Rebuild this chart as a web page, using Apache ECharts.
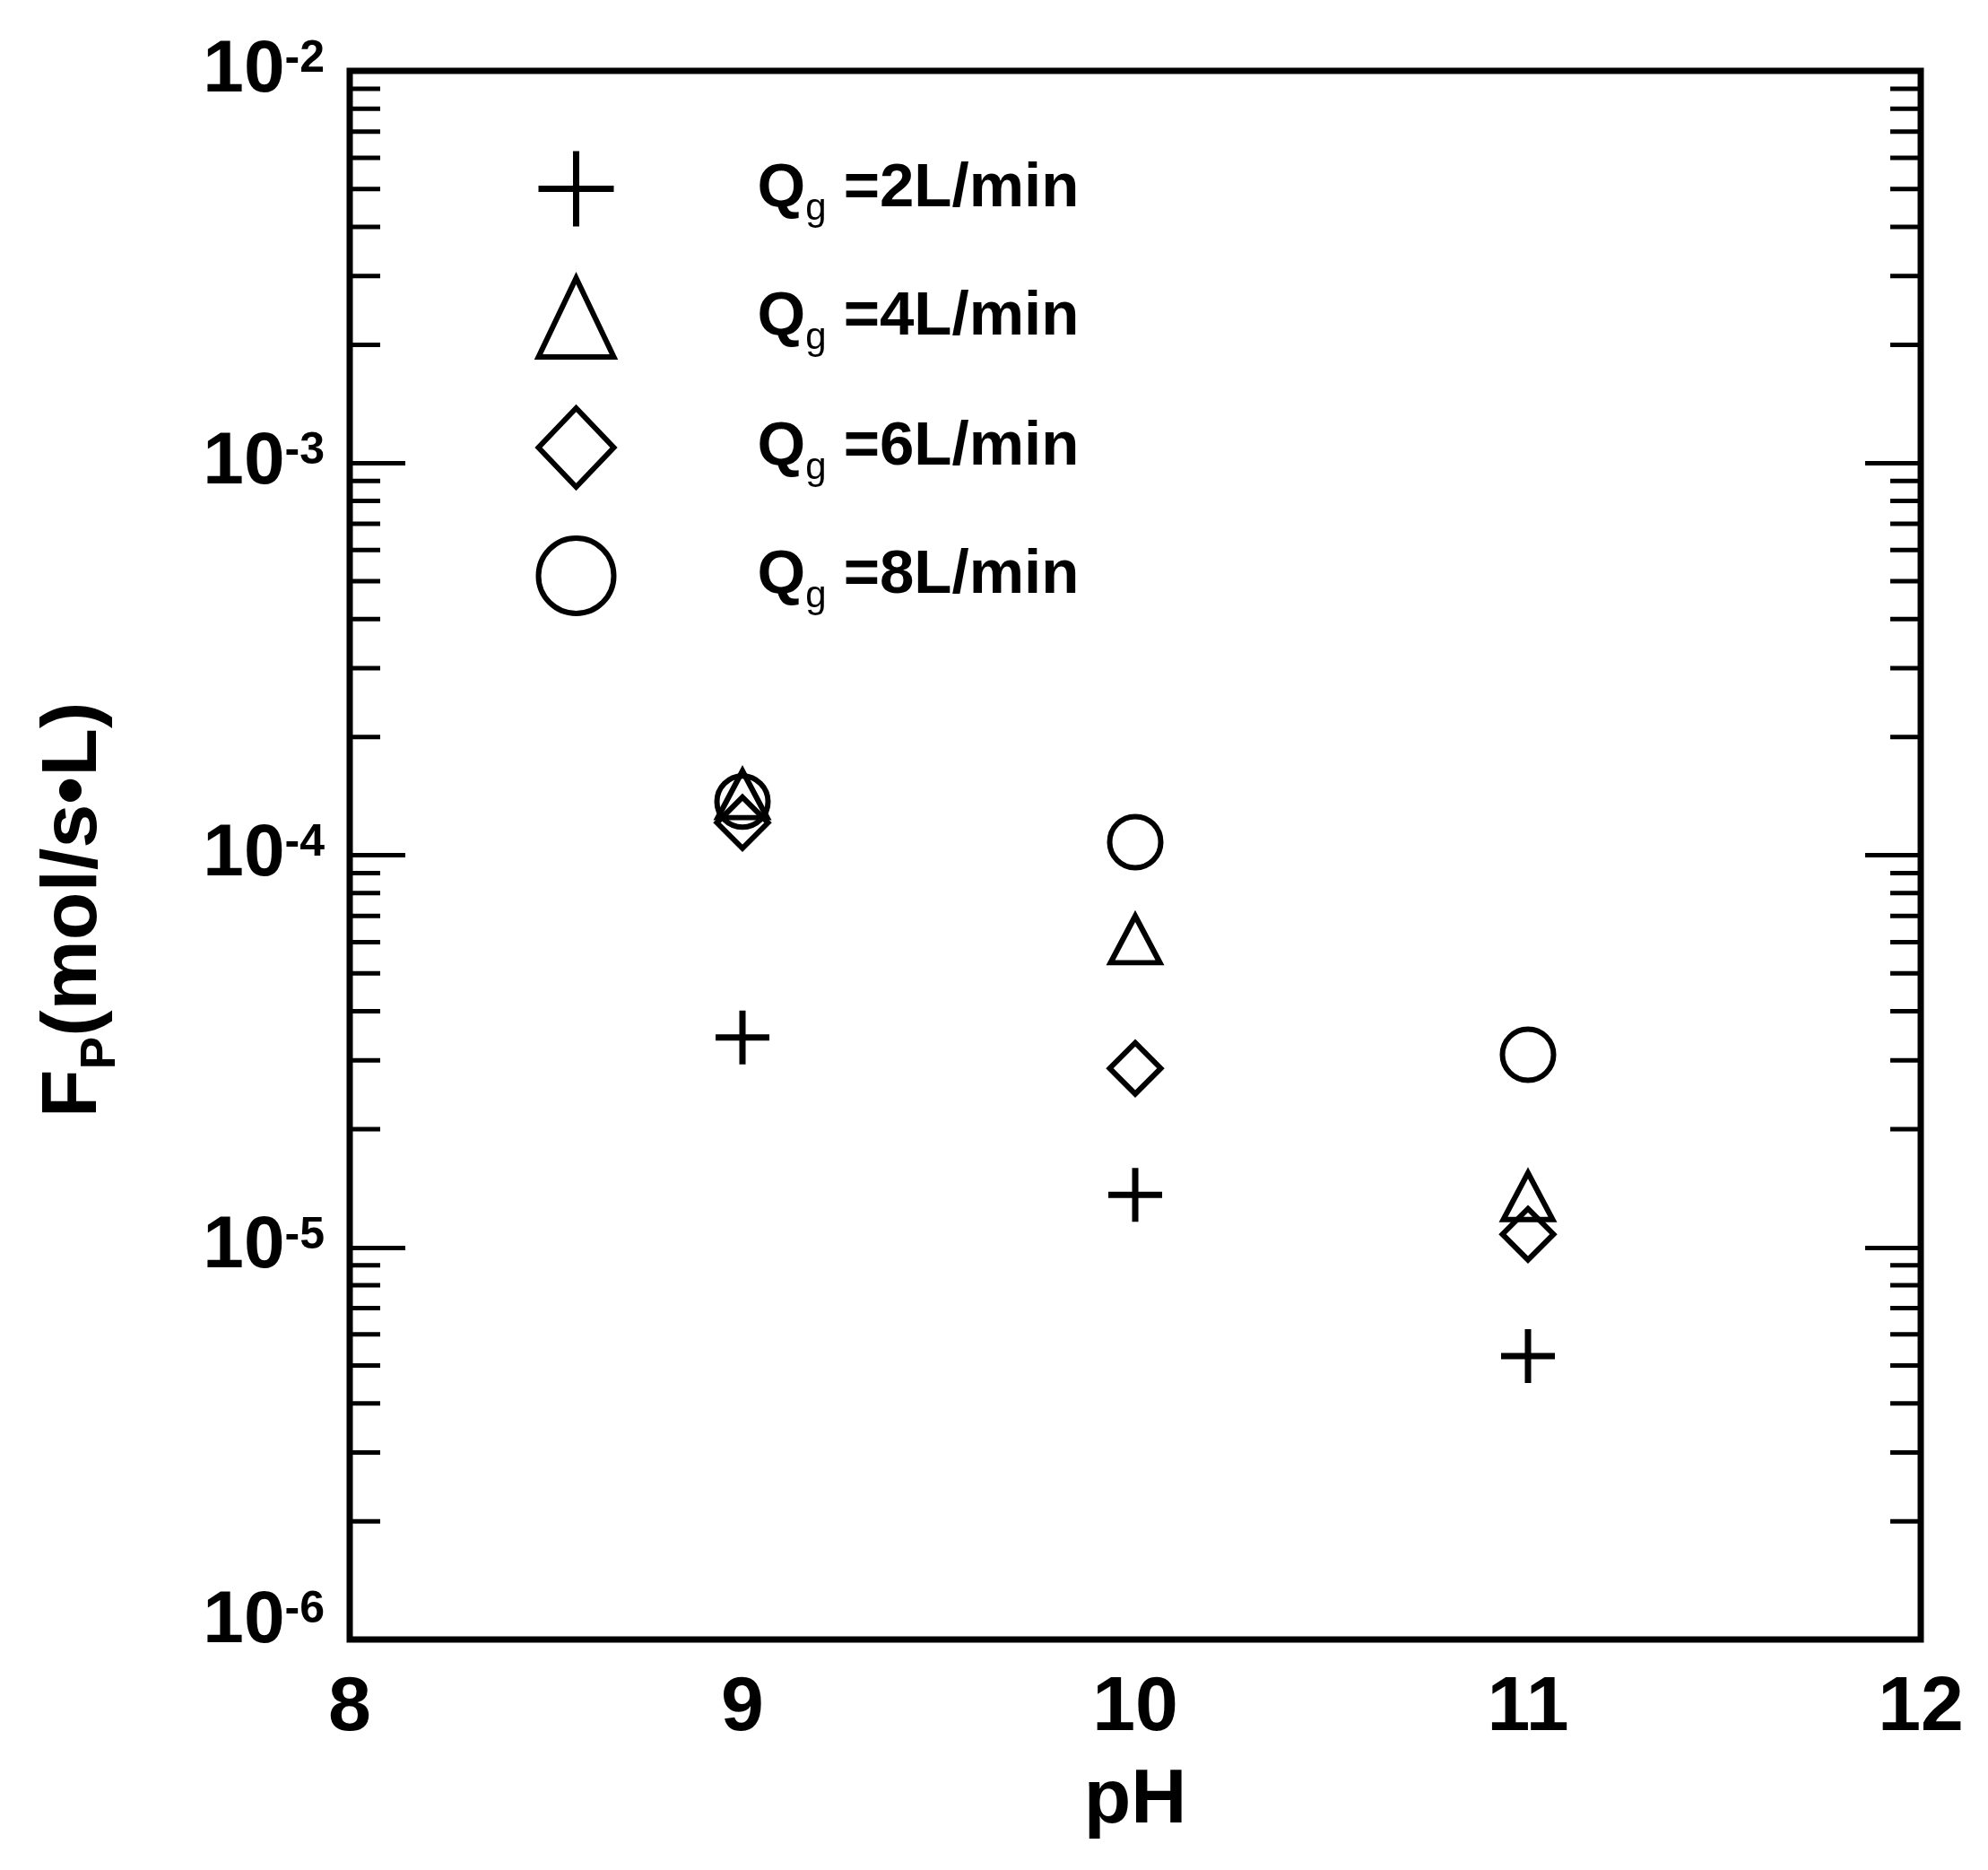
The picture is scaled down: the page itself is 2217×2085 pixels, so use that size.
<!DOCTYPE html>
<html><head><meta charset="utf-8">
<script src="https://cdn.jsdelivr.net/npm/echarts@6/dist/echarts.min.js"></script>
<style>html,body{margin:0;padding:0;background:#fff}#c{width:2217px;height:2085px}</style>
</head><body><div id="c"></div>
<script>
// ---- data ----
const pH = [9, 10, 11];
const flowRates = [2, 4, 6, 8];           // Qg, L/min
const fpQ2 = [3.43e-5, 1.36e-5, 5.28e-6];
const fpQ4 = [1.43e-4, 6.1e-5, 1.35e-5];
const fpQ6 = [1.21e-4, 2.86e-5, 1.08e-5];
const fpQ8 = [1.37e-4, 1.08e-4, 3.10e-5];
const xTickLabels = [8, 9, 10, 11, 12];
const yDecades = [1e-6, 1e-5, 1e-4, 1e-3];
const minorMantissas = [2, 3, 4, 5, 6, 7, 8, 9];

const FONT = 'Liberation Sans, Arial, sans-serif';
const seriesValues = [fpQ2, fpQ4, fpQ6, fpQ8];
const symbols = ['path://M5,0L5,10M0,5L10,5', 'triangle', 'diamond', 'circle'];
const symbolSizes = [60, [55, 52], 57, 57];
const names = flowRates.map(r => 'Qg =' + r + 'L/min');

const minorTicks = [];
yDecades.forEach(d => minorMantissas.forEach(m => minorTicks.push([8, m * d])));

const chart = echarts.init(document.getElementById('c'), null, {renderer: 'canvas'});

const scatterSeries = seriesValues.map((vals, i) => ({
  name: names[i],
  type: 'scatter',
  symbol: symbols[i],
  symbolSize: symbolSizes[i],
  itemStyle: {color: 'rgba(0,0,0,0)', borderColor: '#000', borderWidth: i === 0 ? 7 : 6, opacity: 1},
  emphasis: {disabled: true},
  data: pH.map((x, j) => [x, vals[j]]),
  z: 5
}));

const option = {
  backgroundColor: '#fff',
  animation: false,
  grid: {left: 390, top: 79, right: 75, bottom: 257, show: true, borderColor: '#000', borderWidth: 7, backgroundColor: 'transparent', outerBoundsMode: 'none'},
  legend: {
    orient: 'vertical',
    left: 592, top: 160,
    itemWidth: 84, itemHeight: 88, itemGap: 51,
    selectedMode: false,
    data: names.map((n, i) => ({name: n, itemStyle: {color: 'rgba(0,0,0,0)', borderColor: '#000', borderWidth: i === 0 ? 7 : 6, opacity: 1}})),
    formatter: function (name) {
      const r = name.match(/=(\d+)/)[1];
      return '{sp| }{q|Q}{g|g}{t| =' + r + 'L/min}';
    },
    textStyle: {
      color: '#000', fontFamily: FONT,
      rich: {
        sp: {width: 155, fontSize: 10},
        q: {fontSize: 69, fontWeight: 'bold', fontFamily: FONT, color: '#000'},
        g: {fontSize: 42, fontWeight: 'normal', fontFamily: FONT, color: '#000', padding: [46, 0, 0, 0]},
        t: {fontSize: 69, fontWeight: 'bold', fontFamily: FONT, color: '#000'}
      }
    }
  },
  xAxis: [{
    type: 'value', min: 8, max: 12, interval: 1,
    axisLine: {show: false}, axisTick: {show: false}, splitLine: {show: false},
    axisLabel: {
      margin: 34, color: '#000', fontSize: 86, fontWeight: 'bold', fontFamily: FONT,
      formatter: v => (xTickLabels.indexOf(v) >= 0 ? String(v) : '')
    },
    name: 'pH', nameLocation: 'middle', nameGap: 137,
    nameTextStyle: {color: '#000', fontSize: 86, fontWeight: 'bold', fontFamily: FONT}
  }],
  yAxis: [{
    type: 'log', logBase: 10, min: 1e-6, max: 1e-2, splitNumber: 4,
    axisLine: {show: false},
    axisTick: {show: true, inside: true, length: 62, lineStyle: {color: '#000', width: 5}},
    splitLine: {show: false},
    minorTick: {show: false},
    axisLabel: {
      margin: 28, color: '#000', fontFamily: FONT,
      formatter: function (v) {
        const e = Math.round(Math.log10(v));
        if (e === -6) return '{b6|10}{s6|' + e + '}';
        return '{b|10}{s|' + e + '}';
      },
      rich: {
        b: {fontSize: 82, fontWeight: 'bold', fontFamily: FONT, color: '#000'},
        s: {fontSize: 50, fontWeight: 'bold', fontFamily: FONT, color: '#000', padding: [0, 0, 26, 0]},
        b6: {fontSize: 82, fontWeight: 'bold', fontFamily: FONT, color: '#000', padding: [0, 0, 40, 0]},
        s6: {fontSize: 50, fontWeight: 'bold', fontFamily: FONT, color: '#000', padding: [0, 0, 66, 0]}
      }
    },
    name: '{F|F}{P|P}{r|(mol/s•L)}',
    nameLocation: 'middle', nameRotate: 90, nameGap: 250,
    nameTextStyle: {
      color: '#000', fontFamily: FONT, padding: [0, 122, 0, 0],
      rich: {
        F: {fontSize: 88, fontWeight: 'bold', fontFamily: FONT, color: '#000'},
        P: {fontSize: 55, fontWeight: 'bold', fontFamily: FONT, color: '#000', padding: [60, 0, 0, 0]},
        r: {fontSize: 88, fontWeight: 'bold', fontFamily: FONT, color: '#000'}
      }
    }
  }, {
    type: 'log', logBase: 10, min: 1e-6, max: 1e-2, splitNumber: 4, position: 'right',
    axisLine: {show: false},
    axisTick: {show: true, inside: true, length: 62, lineStyle: {color: '#000', width: 5}},
    axisLabel: {show: false}, splitLine: {show: false}
  }],
  series: [{
    type: 'custom',
    name: 'minorTicks',
    silent: true,
    clip: false,
    data: minorTicks,
    encode: {x: 0, y: 1},
    renderItem: function (params, api) {
      const p = api.coord([api.value(0), api.value(1)]);
      const cs = params.coordSys;
      const y = p[1];
      return {
        type: 'group',
        children: [
          {type: 'line', shape: {x1: cs.x, y1: y, x2: cs.x + 34, y2: y}, style: {stroke: '#000', lineWidth: 5}},
          {type: 'line', shape: {x1: cs.x + cs.width, y1: y, x2: cs.x + cs.width - 34, y2: y}, style: {stroke: '#000', lineWidth: 5}}
        ]
      };
    },
    z: 3
  }].concat(scatterSeries)
};
chart.setOption(option);
</script></body></html>
